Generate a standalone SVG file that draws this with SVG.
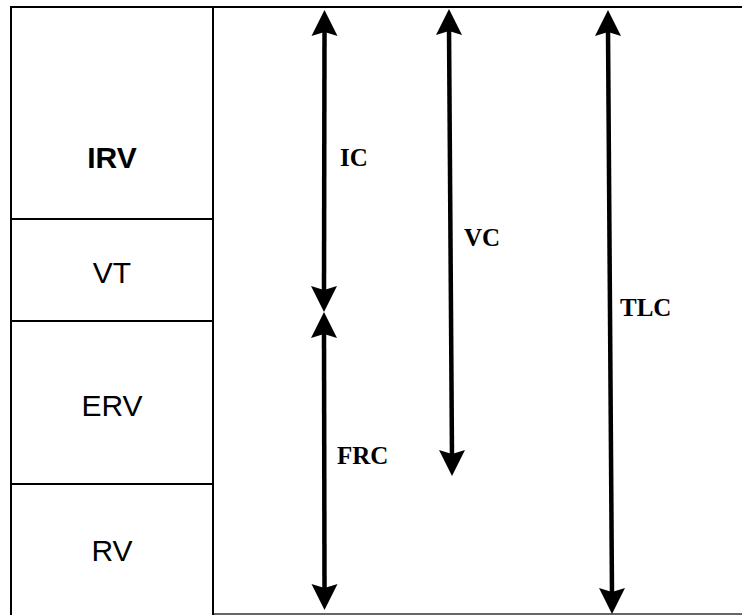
<svg xmlns="http://www.w3.org/2000/svg" xmlns:xlink="http://www.w3.org/1999/xlink" width="742" height="615" viewBox="0 0 742 615">
  <style>
    .box { fill: #ffffff; stroke: #000000; stroke-width: 2; }
    .vol { font-family: "Liberation Sans", Arial, sans-serif; font-size: 30px; fill: #000; text-anchor: middle; }
    .cap { font-family: "Liberation Serif", "Times New Roman", serif; font-size: 25px; font-weight: bold; fill: #000; }
    .shaft { stroke: #000; stroke-width: 4.5; fill: none; }
  </style>
  <defs>
    <!-- arrowhead pointing up, tip at the origin -->
    <path id="headUp" d="M0,0 L13,26 L0,22 L-13,26 Z" fill="#000"/>
  </defs>

  <rect width="742" height="615" fill="#ffffff"/>

  <!-- chart frame -->
  <g id="frame">
    <line x1="213" y1="7" x2="742" y2="7" stroke="#000" stroke-width="2"/>
    <line x1="213" y1="614" x2="742" y2="614" stroke="#666" stroke-width="2"/>
  </g>

  <!-- volume blocks -->
  <g id="irv">
    <rect class="box" x="11" y="7" width="202" height="212"/>
    <text class="vol" x="112" y="168" font-weight="bold">IRV</text>
  </g>
  <g id="vt">
    <rect class="box" x="11" y="219" width="202" height="102"/>
    <text class="vol" x="112" y="283">VT</text>
  </g>
  <g id="erv">
    <rect class="box" x="11" y="321" width="202" height="163"/>
    <text class="vol" x="112" y="416">ERV</text>
  </g>
  <g id="rv">
    <rect class="box" x="11" y="484" width="202" height="140"/>
    <text class="vol" x="112" y="561">RV</text>
  </g>

  <!-- capacity arrows -->
  <g id="connectors">
    <!-- IC -->
    <line class="shaft" x1="324.5" y1="30" x2="324" y2="292"/>
    <use xlink:href="#headUp" href="#headUp" transform="translate(324.5,10)"/>
    <use xlink:href="#headUp" href="#headUp" transform="translate(324,312) rotate(180)"/>
    <!-- FRC -->
    <line class="shaft" x1="324" y1="332" x2="324.5" y2="590"/>
    <use xlink:href="#headUp" href="#headUp" transform="translate(324,312)"/>
    <use xlink:href="#headUp" href="#headUp" transform="translate(324.5,610) rotate(180)"/>
    <!-- VC -->
    <line class="shaft" x1="449" y1="28" x2="452" y2="456"/>
    <use xlink:href="#headUp" href="#headUp" transform="translate(449,9)"/>
    <use xlink:href="#headUp" href="#headUp" transform="translate(452,476) rotate(180)"/>
    <!-- TLC -->
    <line class="shaft" x1="608" y1="30" x2="612" y2="595"/>
    <use xlink:href="#headUp" href="#headUp" transform="translate(608,10)"/>
    <use xlink:href="#headUp" href="#headUp" transform="translate(612,614) rotate(180)"/>
  </g>

  <g id="labels">
    <text class="cap" x="340" y="166">IC</text>
    <text class="cap" x="464" y="246">VC</text>
    <text class="cap" x="620" y="316">TLC</text>
    <text class="cap" x="337" y="464">FRC</text>
  </g>
</svg>
